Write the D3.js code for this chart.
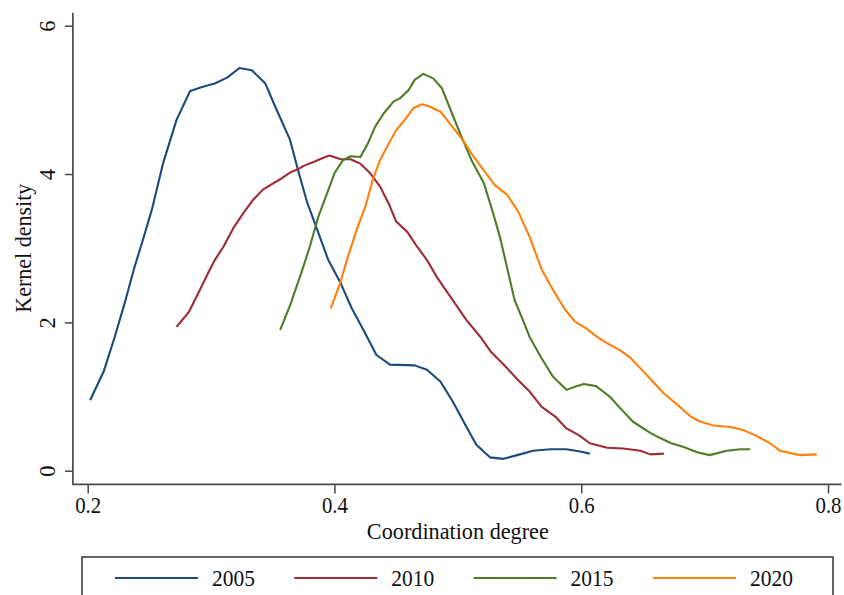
<!DOCTYPE html>
<html>
<head>
<meta charset="utf-8">
<script src="https://cdn.jsdelivr.net/npm/d3@7"></script>
<style>
  html, body { margin: 0; padding: 0; background: #fff; }
  svg { display: block; }
  text { font-family: "Liberation Serif", "Times New Roman", serif; fill: #111; }
</style>
</head>
<body>
<svg id="chart" width="844" height="595"></svg>
<script>
// Kernel density estimates of the coordination degree, by year
const years = ["2005", "2010", "2015", "2020"];
const colors = ["#1b4b7c", "#a02a35", "#4d7d27", "#ff800a"];

const x2005 = [0.202,0.213,0.222,0.230,0.238,0.244,0.252,0.261,0.272,0.283,0.294,0.303,0.313,0.323,0.333,0.344,0.353,0.364,0.371,0.378,0.386,0.395,0.405,0.414,0.425,0.434,0.445,0.465,0.475,0.486,0.496,0.506,0.515,0.526,0.537,0.548,0.561,0.575,0.588,0.599,0.607];
const y2005 = [0.95,1.34,1.81,2.26,2.75,3.07,3.52,4.14,4.73,5.12,5.18,5.22,5.30,5.43,5.40,5.22,4.87,4.46,4.02,3.61,3.25,2.84,2.53,2.19,1.85,1.56,1.43,1.42,1.36,1.20,0.93,0.62,0.35,0.18,0.16,0.21,0.27,0.29,0.29,0.26,0.23];

const x2010 = [0.272,0.282,0.291,0.298,0.303,0.310,0.318,0.326,0.334,0.342,0.349,0.357,0.364,0.371,0.375,0.384,0.391,0.396,0.405,0.413,0.421,0.429,0.437,0.444,0.450,0.459,0.467,0.475,0.483,0.495,0.507,0.518,0.527,0.540,0.549,0.558,0.568,0.579,0.588,0.598,0.607,0.621,0.634,0.648,0.656,0.667];
const y2010 = [1.94,2.14,2.44,2.68,2.84,3.02,3.27,3.47,3.65,3.79,3.86,3.94,4.02,4.07,4.11,4.17,4.22,4.25,4.20,4.20,4.14,4.01,3.83,3.60,3.36,3.22,3.02,2.84,2.61,2.32,2.03,1.81,1.60,1.38,1.22,1.07,0.86,0.73,0.57,0.48,0.37,0.31,0.30,0.27,0.22,0.23];

const x2015 = [0.356,0.364,0.373,0.380,0.387,0.394,0.400,0.407,0.413,0.421,0.427,0.433,0.440,0.448,0.453,0.460,0.465,0.472,0.480,0.487,0.494,0.502,0.511,0.521,0.527,0.534,0.541,0.546,0.552,0.558,0.567,0.577,0.588,0.596,0.602,0.612,0.623,0.634,0.642,0.656,0.664,0.673,0.683,0.694,0.704,0.718,0.729,0.737];
const y2015 = [1.90,2.23,2.66,3.02,3.43,3.74,4.01,4.19,4.24,4.23,4.41,4.64,4.82,4.98,5.02,5.13,5.27,5.35,5.29,5.16,4.87,4.54,4.19,3.88,3.56,3.16,2.66,2.30,2.06,1.81,1.54,1.27,1.09,1.14,1.17,1.14,1.00,0.80,0.66,0.51,0.44,0.37,0.32,0.25,0.21,0.27,0.29,0.29];

const x2020 = [0.397,0.405,0.411,0.418,0.425,0.431,0.437,0.444,0.450,0.457,0.464,0.471,0.477,0.486,0.494,0.503,0.513,0.521,0.530,0.540,0.549,0.558,0.568,0.577,0.587,0.595,0.604,0.614,0.623,0.631,0.640,0.648,0.657,0.667,0.680,0.688,0.695,0.707,0.721,0.731,0.742,0.753,0.761,0.777,0.791];
const y2020 = [2.19,2.55,2.89,3.25,3.56,3.92,4.19,4.41,4.59,4.73,4.89,4.94,4.91,4.84,4.67,4.48,4.23,4.05,3.85,3.72,3.49,3.16,2.71,2.44,2.17,2.01,1.92,1.79,1.70,1.63,1.52,1.38,1.22,1.04,0.86,0.74,0.67,0.61,0.59,0.55,0.47,0.37,0.27,0.21,0.22];

const xTicks = [0.2, 0.4, 0.6, 0.8];
const yTicks = [0, 2, 4, 6];

const seriesX = [x2005, x2010, x2015, x2020];
const seriesY = [y2005, y2010, y2015, y2020];

const svg = d3.select("#chart");

const x = d3.scaleLinear().domain([0.2, 0.8]).range([87.7, 828]);
const y = d3.scaleLinear().domain([0, 6]).range([470.7, 25.7]);

// axis extents reach a little past the outer ticks
const xLo = 0.188, xHi = 0.811, yLo = -0.185, yHi = 6.175;
const axisColor = "#4a4a4a";
const serif = "Liberation Serif, Times New Roman, serif";

// axis lines (L-shaped frame)
svg.append("path")
  .attr("d", `M${x(xLo)},${y(yHi)}V${y(yLo)}H${x(xHi)}`)
  .attr("fill", "none")
  .attr("stroke", axisColor)
  .attr("stroke-width", 1.7);

// x axis ticks and labels
const gx = svg.append("g").attr("transform", `translate(0,${y(yLo)})`)
  .call(d3.axisBottom(x).tickValues(xTicks).tickFormat(d3.format(".1f")).tickSize(9).tickPadding(4));
gx.select(".domain").remove();
gx.selectAll(".tick line").attr("stroke", axisColor).attr("stroke-width", 1.5);
gx.selectAll(".tick text")
  .attr("font-family", serif)
  .attr("font-size", 22.5).attr("fill", "#111")
  .attr("textLength", 26).attr("lengthAdjust", "spacingAndGlyphs");

// y axis ticks and rotated labels
const gy = svg.append("g").attr("transform", `translate(${x(xLo)},0)`)
  .call(d3.axisLeft(y).tickValues(yTicks).tickFormat(d3.format("d")).tickSize(8));
gy.select(".domain").remove();
gy.selectAll(".tick line").attr("stroke", axisColor).attr("stroke-width", 1.5);
gy.selectAll(".tick text")
  .attr("x", null).attr("dy", null)
  .attr("transform", "translate(-18,0) rotate(-90)")
  .attr("text-anchor", "middle")
  .attr("font-family", serif)
  .attr("font-size", 22.5).attr("fill", "#111");

// axis titles
svg.append("text")
  .attr("x", (x(0.2) + x(0.8)) / 2).attr("y", 539)
  .attr("text-anchor", "middle").attr("font-size", 23.5)
  .attr("textLength", 182).attr("lengthAdjust", "spacingAndGlyphs")
  .text("Coordination degree");

svg.append("text")
  .attr("transform", `translate(31,${(y(0) + y(6)) / 2}) rotate(-90)`)
  .attr("text-anchor", "middle").attr("font-size", 23.5)
  .attr("textLength", 129).attr("lengthAdjust", "spacingAndGlyphs")
  .text("Kernel density");

// density curves
const line = d3.line().x(d => x(d[0])).y(d => y(d[1]));
years.forEach((yr, i) => {
  const pts = seriesX[i].map((v, j) => [v, seriesY[i][j]]);
  svg.append("path")
    .datum(pts)
    .attr("d", line)
    .attr("fill", "none")
    .attr("stroke", colors[i])
    .attr("stroke-width", 2.1)
    .attr("stroke-linejoin", "round");
});

// legend
svg.append("rect")
  .attr("x", 82).attr("y", 557).attr("width", 751).attr("height", 60)
  .attr("fill", "none").attr("stroke", "#333").attr("stroke-width", 1.5);

const legendStep = 179.3;
const lg = svg.append("g");
years.forEach((yr, i) => {
  const x0 = 115 + i * legendStep;
  lg.append("line")
    .attr("x1", x0).attr("x2", x0 + 83)
    .attr("y1", 578).attr("y2", 578)
    .attr("stroke", colors[i]).attr("stroke-width", 2);
  lg.append("text")
    .attr("x", x0 + 97).attr("y", 586)
    .attr("font-size", 22.5)
    .attr("textLength", 43).attr("lengthAdjust", "spacingAndGlyphs")
    .text(yr);
});
</script>
</body>
</html>
